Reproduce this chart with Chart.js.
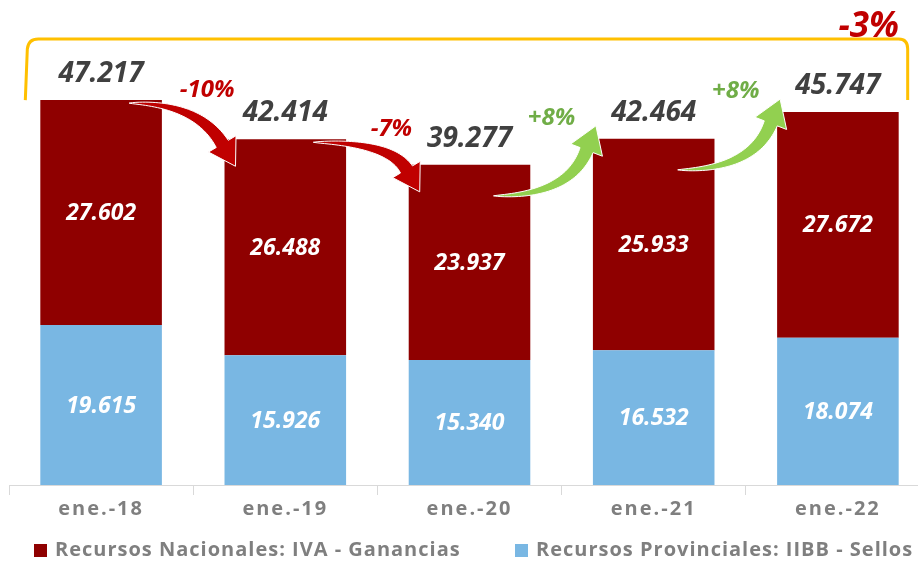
<!DOCTYPE html>
<html>
<head>
<meta charset="utf-8">
<script src="https://cdn.jsdelivr.net/npm/chart.js@4.4.1/dist/chart.umd.min.js"></script>
<style>
  html, body { margin: 0; padding: 0; background: #fff; overflow: hidden; }
</style>
</head>
<body>
<canvas id="canvas" width="930" height="561"></canvas>
<script>
const categories = ['ene.-18', 'ene.-19', 'ene.-20', 'ene.-21', 'ene.-22'];
const nacionales = [27602, 26488, 23937, 25933, 27672];
const provinciales = [19615, 15926, 15340, 16532, 18074];
const totals = [47217, 42414, 39277, 42464, 45747];
const changes = ['-10%', '-7%', '+8%', '+8%'];
const totalChange = '-3%';
const seriesNames = ['Recursos Nacionales: IVA - Ganancias', 'Recursos Provinciales: IIBB - Sellos'];

const RED = '#8f0000';
const BLUE = '#79b7e3';
const FONT = '"Open Sans", "DejaVu Sans", sans-serif';

function fmt(v) {
  return String(v).replace(/\B(?=(\d{3})+(?!\d))/g, '.');
}

// curved tapered arrow: tail -> (quadratic body) -> triangle head at tip
function drawArrow(ctx, tail, tip, dir, color, bodyW, headW) {
  const L = 26;
  const len = Math.hypot(dir[0], dir[1]);
  const dx = dir[0] / len, dy = dir[1] / len;
  const bx = tip[0] - dx * L, by = tip[1] - dy * L;
  const t = (by - tail[1]) / dy;
  const cx = bx - dx * t, cy = tail[1];
  const left = [], right = [];
  const N = 40;
  for (let k = 0; k <= N; k++) {
    const s = k / N;
    const px = (1 - s) * (1 - s) * tail[0] + 2 * (1 - s) * s * cx + s * s * bx;
    const py = (1 - s) * (1 - s) * tail[1] + 2 * (1 - s) * s * cy + s * s * by;
    const tx = 2 * (1 - s) * (cx - tail[0]) + 2 * s * (bx - cx);
    const ty = 2 * (1 - s) * (cy - tail[1]) + 2 * s * (by - cy);
    const tl = Math.hypot(tx, ty) || 1;
    const nx = -ty / tl, ny = tx / tl;
    const w = bodyW * Math.pow(s, 0.7);
    left.push([px + nx * w, py + ny * w]);
    right.push([px - nx * w, py - ny * w]);
  }
  const nx = -dy, ny = dx;
  ctx.beginPath();
  ctx.moveTo(left[0][0], left[0][1]);
  left.forEach(p => ctx.lineTo(p[0], p[1]));
  ctx.lineTo(bx + nx * headW, by + ny * headW);
  ctx.lineTo(tip[0], tip[1]);
  ctx.lineTo(bx - nx * headW, by - ny * headW);
  for (let k = right.length - 1; k >= 0; k--) ctx.lineTo(right[k][0], right[k][1]);
  ctx.closePath();
  ctx.fillStyle = color;
  ctx.fill();
  ctx.strokeStyle = '#ffffff';
  ctx.lineWidth = 1;
  ctx.stroke();
}

const annotations = {
  id: 'annotations',
  beforeDraw(chart) {
    chart.ctx.letterSpacing = '2px';
  },
  beforeDatasetsDraw(chart) {
    chart.ctx.letterSpacing = '0px';
  },
  afterDatasetsDraw(chart) {
    const ctx = chart.ctx;
    const prov = chart.getDatasetMeta(0).data;
    const nac = chart.getDatasetMeta(1).data;
    ctx.save();
    ctx.letterSpacing = '0px';

    // values inside the segments
    ctx.textAlign = 'center';
    ctx.textBaseline = 'middle';
    ctx.fillStyle = '#ffffff';
    ctx.font = 'italic bold 23px ' + FONT;
    prov.forEach((bar, i) => ctx.fillText(fmt(provinciales[i]), bar.x, (bar.y + bar.base) / 2 + 1));
    nac.forEach((bar, i) => ctx.fillText(fmt(nacionales[i]), bar.x, (bar.y + bar.base) / 2 + 1));

    // totals above the bars
    ctx.textBaseline = 'alphabetic';
    ctx.fillStyle = '#404040';
    ctx.font = 'italic bold 28px ' + FONT;
    nac.forEach((bar, i) => ctx.fillText(fmt(totals[i]), bar.x, bar.y - 18));

    // year-on-year arrows
    for (let i = 0; i < nac.length - 1; i++) {
      const from = nac[i], to = nac[i + 1];
      const mid = (from.x + to.x) / 2;
      const up = totals[i + 1] > totals[i];
      ctx.textBaseline = 'middle';
      ctx.font = 'italic bold 24px ' + FONT;
      if (up) {
        drawArrow(ctx, [from.x + 24, from.y + 31], [to.x - to.width / 2 + 3, to.y - 13],
          [0.36, -0.935], '#92d050', 7, 17);
        ctx.fillStyle = '#70ad47';
        ctx.fillText(changes[i], mid - 10, to.y - 21);
      } else {
        drawArrow(ctx, [from.x + 28, from.y + 3], [to.x - to.width / 2 + 11, to.y + 27],
          [0.51, 0.86], '#c00000', 7, 16);
        ctx.fillStyle = '#c00000';
        ctx.fillText(changes[i], mid + 14, from.y - 10);
      }
    }

    // bracket over the whole period
    const first = nac[0], last = nac[nac.length - 1];
    const lx = first.x - first.width / 2 - 15;
    const rx = last.x + last.width / 2 + 9;
    const by = first.y, ty = 39;
    ctx.beginPath();
    ctx.moveTo(lx, by);
    ctx.lineTo(lx + 2, ty + 10);
    ctx.quadraticCurveTo(lx + 3, ty, lx + 13, ty);
    ctx.lineTo(rx - 9, ty);
    ctx.quadraticCurveTo(rx, ty, rx, ty + 10);
    ctx.lineTo(rx, by);
    ctx.strokeStyle = '#ffc000';
    ctx.lineWidth = 3;
    ctx.stroke();

    ctx.textBaseline = 'alphabetic';
    ctx.fillStyle = '#c00000';
    ctx.font = 'italic bold 35px ' + FONT;
    ctx.fillText(totalChange, rx - 39, 37);
    ctx.restore();
  },
  afterDraw(chart) {
    // legend
    const ctx = chart.ctx;
    ctx.save();
    ctx.letterSpacing = '1px';
    ctx.font = 'bold 20px ' + FONT;
    ctx.textBaseline = 'middle';
    ctx.textAlign = 'left';
    const items = [
      {text: seriesNames[0], color: RED, x: 34},
      {text: seriesNames[1], color: BLUE, x: 515},
    ];
    items.forEach(it => {
      ctx.fillStyle = it.color;
      ctx.fillRect(it.x, 544, 13, 13);
      ctx.fillStyle = '#7f7f7f';
      ctx.fillText(it.text, it.x + 21, 550);
    });
    ctx.restore();
  }
};

const canvas = document.getElementById('canvas');
const context = canvas.getContext('2d');

const config = {
  type: 'bar',
  data: {
    labels: categories,
    datasets: [
      {
        label: seriesNames[1],
        data: provinciales,
        backgroundColor: BLUE,
        borderWidth: 0,
        barPercentage: 0.66,
        categoryPercentage: 1,
      },
      {
        label: seriesNames[0],
        data: nacionales,
        backgroundColor: RED,
        borderWidth: 0,
        barPercentage: 0.66,
        categoryPercentage: 1,
      },
    ],
  },
  options: {
    responsive: false,
    animation: false,
    events: [],
    layout: {
      padding: {left: 9, right: 0, top: 0, bottom: 38},
    },
    plugins: {
      legend: {display: false},
      tooltip: {enabled: false},
    },
    scales: {
      x: {
        stacked: true,
        grid: {
          offset: true,
          drawOnChartArea: false,
          drawTicks: true,
          tickLength: 10,
          color: '#d9d9d9',
        },
        border: {color: '#d9d9d9'},
        ticks: {
          color: '#7f7f7f',
          padding: 2,
          font: {family: FONT, size: 20, weight: 'bold'},
        },
      },
      y: {
        stacked: true,
        display: false,
        min: 0,
        max: 59500,
      },
    },
  },
  plugins: [annotations],
};

const chart = new Chart(context, config);
</script>
</body>
</html>
